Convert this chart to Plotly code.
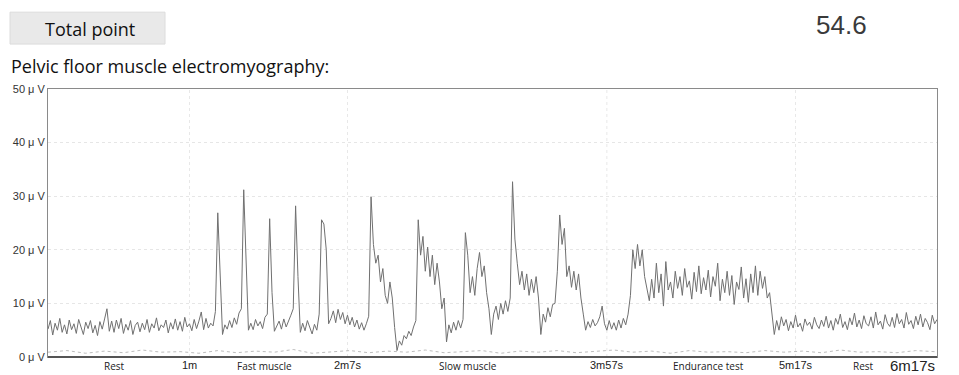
import plotly.graph_objects as go

# ---------------- data ----------------
# EMG amplitude in µV, one sample per second, from 0 s to 6m17s (377 s)
emg_uv = [
    5.2, 6.8, 4.1, 6.3, 5.0, 7.2, 4.6, 6.0, 4.3, 6.9,
    5.1, 6.2, 4.4, 7.0, 5.6, 4.2, 6.5, 5.3, 6.8, 4.5,
    5.9, 4.0, 6.6, 5.2, 7.1, 9.0, 4.8, 6.7, 4.6, 6.9,
    5.3, 7.2, 4.4, 6.1, 5.0, 6.8, 4.2, 5.9, 6.5, 4.7,
    6.3, 5.1, 7.0, 4.6, 6.2, 5.4, 7.3, 4.9, 6.0, 5.5,
    6.9, 4.5, 6.4, 5.2, 7.1, 5.0, 6.6, 4.8, 7.4, 5.6,
    6.2, 4.9, 7.0, 5.3, 6.7, 8.4, 5.1, 7.2, 5.4, 6.3,
    5.8, 8.5, 26.9, 14.0, 4.2, 6.0, 5.2, 6.8, 5.5, 7.3,
    6.1, 8.2, 9.0, 31.2, 18.0, 5.0, 6.3, 5.1, 7.0, 5.8,
    6.6, 5.3, 7.4, 8.0, 25.8, 12.0, 4.8, 5.9, 6.7, 5.2,
    7.1, 5.6, 6.9, 7.8, 9.0, 28.2, 15.0, 4.6, 6.3, 4.9,
    6.8, 5.5, 4.3, 6.1, 5.0, 8.0, 25.6, 24.8, 20.0, 6.2,
    7.2, 8.6, 6.4, 8.9, 7.0, 8.3, 6.2, 7.8, 6.0, 7.4,
    5.6, 6.9, 5.2, 6.4, 5.0, 6.2, 7.6, 29.9, 21.0, 17.5,
    19.0, 14.0, 16.5, 11.5, 10.0, 14.0, 11.0, 5.5, 1.2, 3.0,
    2.2, 4.0, 3.4, 4.8, 4.0, 5.6, 6.8, 25.6, 19.0, 22.5,
    16.0, 20.5, 15.0, 19.0, 13.5, 17.5, 14.0, 9.0, 11.0, 2.8,
    6.0, 4.5, 6.5, 5.0, 6.8, 5.4, 7.0, 23.2, 19.0, 12.0,
    15.0, 11.5, 16.5, 19.5, 15.0, 17.0, 12.0, 9.0, 4.2, 8.0,
    9.5, 7.0, 10.0, 8.0, 10.5, 8.5, 11.0, 32.7, 22.0, 17.5,
    13.5, 16.0, 12.5, 15.5, 11.5, 14.5, 12.0, 15.0, 11.0, 4.2,
    8.0, 6.5, 9.2, 7.5, 9.8, 10.0, 16.0, 26.5, 21.0, 24.0,
    15.0, 17.0, 13.0, 16.0, 12.5, 15.5, 11.0, 8.0, 5.0, 6.6,
    5.5, 7.0, 5.8, 6.4, 7.5, 9.5, 6.2, 5.0, 6.8, 5.2,
    6.4, 5.0, 6.9, 5.4, 7.2, 6.0, 8.0, 11.5, 20.0, 16.5,
    21.0, 17.0, 20.0, 15.0, 13.0, 10.5, 14.5, 11.0, 17.5, 12.0,
    15.5, 9.5, 17.8, 12.5, 14.0, 11.0, 16.0, 12.8, 15.0, 11.5,
    16.5, 13.0, 14.2, 10.8, 15.8, 12.2, 17.0, 11.8, 14.8, 12.5,
    16.2, 11.2, 15.0, 13.2, 17.5, 10.5, 14.5, 12.0, 16.0, 11.5,
    15.2, 9.8, 14.0, 12.6, 16.8, 11.0, 14.6, 10.2, 15.5, 12.0,
    17.0, 11.5, 16.0, 12.8, 15.0, 11.0, 12.0, 8.5, 4.2, 6.8,
    5.0, 7.5, 5.8, 7.0, 4.9, 6.6, 5.4, 7.8, 5.6, 6.3,
    4.8, 7.1, 5.9, 6.5, 5.2, 7.4, 6.0, 5.3, 6.9, 5.7,
    7.6, 5.4, 6.8, 5.0, 7.2, 6.1, 8.0, 5.5, 6.6, 5.1,
    7.3, 6.0, 8.2, 5.6, 6.9, 5.3, 7.7, 6.2, 5.8, 7.5,
    5.4, 8.4, 6.0, 6.7, 5.2, 7.9, 6.3, 5.7, 7.4, 5.5,
    8.1, 6.2, 7.0, 5.4, 8.3, 6.1, 6.8, 5.3, 7.6, 6.0,
    8.0, 5.6, 7.2, 6.4, 5.1, 7.8, 6.2, 7.0,
]
time_s = list(range(len(emg_uv)))

# faint reference baseline trace near 0 µV, one sample every 8 s
baseline_uv = [
    0.9, 1.2, 0.7, 1.1, 0.8, 1.3, 0.9, 1.0, 0.7, 1.2,
    0.8, 1.1, 0.9, 1.4, 0.7, 1.0, 1.2, 0.8, 1.1, 0.9,
    1.3, 0.8, 1.0, 1.2, 0.7, 1.1, 0.9, 1.2, 0.8, 1.0,
    1.3, 0.9, 1.1, 0.7, 1.2, 0.9, 1.0, 0.8, 1.2, 0.9,
    1.1, 0.8, 1.3, 0.9, 1.0, 0.8, 1.2, 1.0,
]
baseline_t = [i * 8 for i in range(len(baseline_uv))]

y_ticks = [0, 10, 20, 30, 40, 50]
y_tick_labels = ["0 μ V", "10 μ V", "20 μ V", "30 μ V", "40 μ V", "50 μ V"]

time_marks_s = [60, 127, 237, 317, 377]
time_mark_labels = ["1m", "2m7s", "3m57s", "5m17s", "6m17s"]
phase_pos_s = [28, 92, 178, 280, 346]
phase_labels = ["Rest", "Fast muscle", "Slow muscle", "Endurance test", "Rest"]

total_label = "Total point"
total_value = "54.6"
title_text = "Pelvic floor muscle electromyography:"

# ---------------- figure ----------------
W, H = 959, 375
L, R, T, B = 48, 937, 89, 357.5


def px(xp):
    return (xp - L) / (R - L)


def py(yp):
    return (B - yp) / (B - T)


fig = go.Figure()
fig.add_trace(go.Scatter(
    x=baseline_t, y=baseline_uv, mode="lines",
    line=dict(color="#bdbdbd", width=1, dash="dot"),
    hoverinfo="skip", showlegend=False))
fig.add_trace(go.Scatter(
    x=time_s, y=emg_uv, mode="lines",
    line=dict(color="#707070", width=1),
    showlegend=False))

shapes = []
for t in time_marks_s[:-1]:
    shapes.append(dict(type="line", xref="x", yref="y", x0=t, x1=t, y0=0, y1=50,
                       line=dict(color="#e8e8e8", width=1, dash="dot"), layer="below"))
shapes.append(dict(type="rect", xref="paper", yref="paper",
                   x0=px(10), x1=px(165), y0=py(44), y1=py(12),
                   fillcolor="#e9e9e9", line=dict(color="#dcdcdc", width=1), layer="below"))
shapes.append(dict(type="line", xref="paper", yref="paper", x0=0, x1=1, y0=0, y1=0,
                   line=dict(color="#555", width=2)))

annotations = [
    dict(text=total_label, xref="paper", yref="paper", x=px(90), y=py(29),
         xanchor="center", yanchor="middle", showarrow=False,
         font=dict(family="Open Sans", size=18, color="#111")),
    dict(text=total_value, xref="paper", yref="paper", x=px(841), y=py(25),
         xanchor="center", yanchor="middle", showarrow=False,
         font=dict(family="Liberation Sans", size=26, color="#3a3a3a")),
    dict(text=title_text, xref="paper", yref="paper", x=px(9), y=py(66),
         xanchor="left", yanchor="middle", showarrow=False,
         font=dict(family="Open Sans", size=18, color="#111")),
]
for t, lab in zip(time_marks_s, time_mark_labels):
    big = lab == "6m17s"
    annotations.append(dict(text=lab, xref="x", yref="paper", x=t, y=py(366),
                            xanchor="right" if big else "center", yanchor="middle",
                            showarrow=False,
                            font=dict(family="Liberation Sans", size=15 if big else 11, color="#222")))
for t, lab in zip(phase_pos_s, phase_labels):
    annotations.append(dict(text=lab, xref="x", yref="paper", x=t, y=py(367),
                            xanchor="center", yanchor="middle", showarrow=False,
                            font=dict(family="Open Sans", size=10, color="#222")))

fig.update_layout(
    width=W, height=H,
    margin=dict(l=L, r=W - R, t=T, b=H - B, autoexpand=False),
    paper_bgcolor="white", plot_bgcolor="white",
    shapes=shapes, annotations=annotations,
    xaxis=dict(range=[0, 377], showgrid=False, zeroline=False,
               showticklabels=False, ticks="", automargin=False,
               showline=True, linecolor="#8a8a8a", linewidth=1, mirror=True),
    yaxis=dict(range=[0, 50], tickvals=y_ticks, ticktext=y_tick_labels,
               showgrid=True, gridcolor="#e6e6e6", griddash="dot", gridwidth=1,
               zeroline=False, ticks="", ticklen=0, automargin=False,
               tickfont=dict(family="Liberation Sans", size=11, color="#333"),
               showline=True, linecolor="#8a8a8a", linewidth=1, mirror=True),
)

fig.write_html("out.html", config={"displayModeBar": False},
               post_script="document.body.style.margin='0';document.body.style.overflow='hidden';")
